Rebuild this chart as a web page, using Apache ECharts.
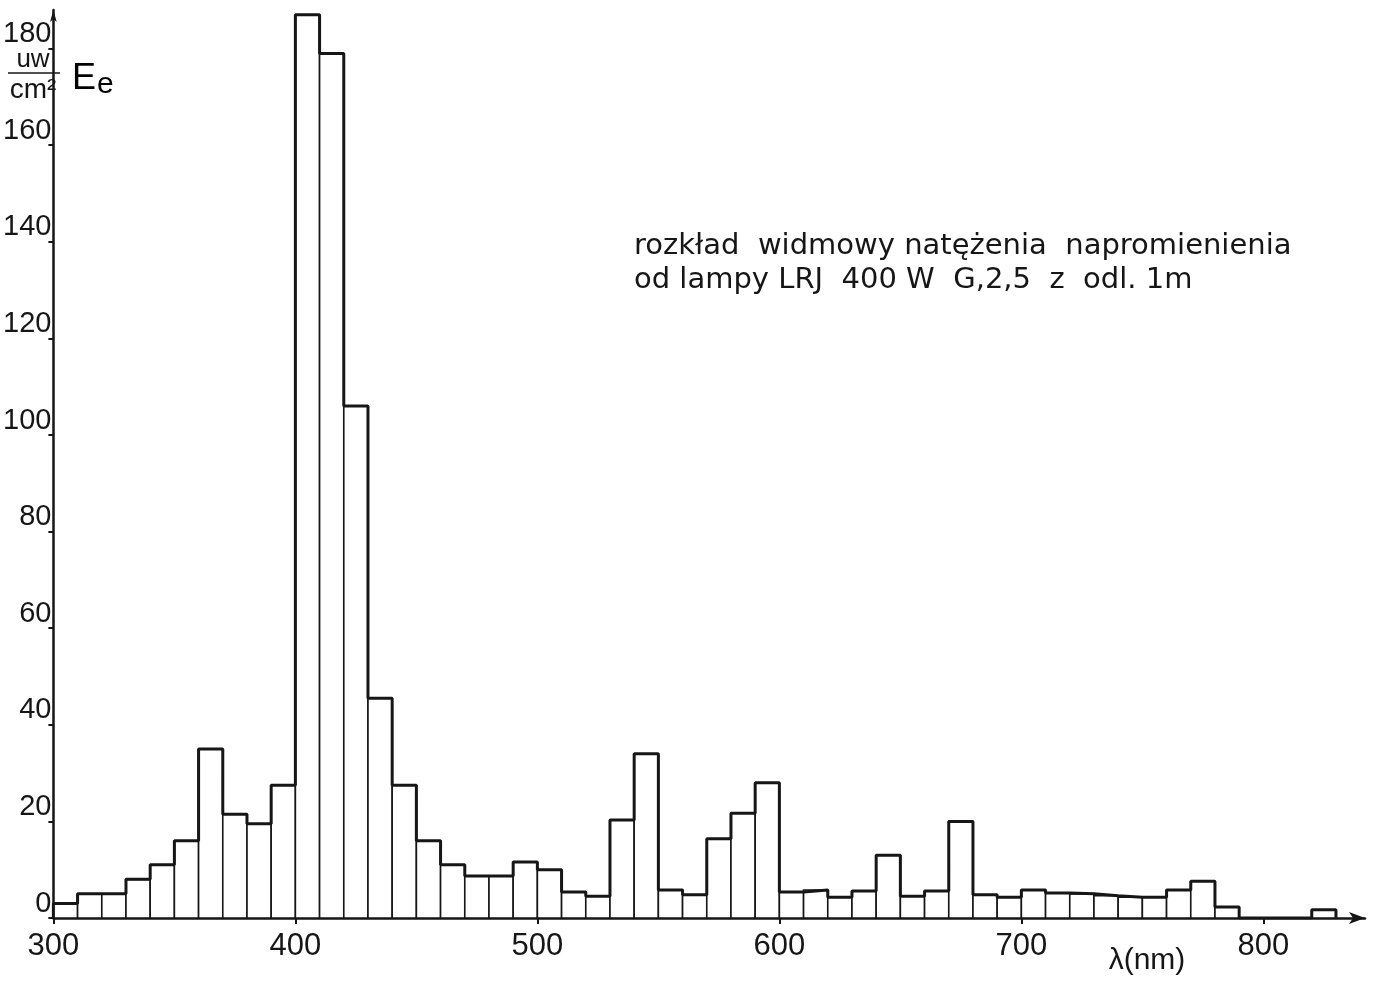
<!DOCTYPE html>
<html>
<head>
<meta charset="utf-8">
<title>rozkład widmowy natężenia napromienienia</title>
<script src="https://cdn.jsdelivr.net/npm/echarts@6/dist/echarts.min.js"></script>
<style>
  html, body { margin: 0; padding: 0; background: #fff; }
  #chart { width: 1374px; height: 983px; }
</style>
</head>
<body>
<div id="chart"></div>
<script>
// wavelength bins (nm, start of each 10 nm band)
const binStarts = [
  300, 310, 320, 330, 340, 350, 360, 370, 380, 390,
  400, 410, 420, 430, 440, 450, 460, 470, 480, 490,
  500, 510, 520, 530, 540, 550, 560, 570, 580, 590,
  600, 610, 620, 630, 640, 650, 660, 670, 680, 690,
  700, 710, 720, 730, 740, 750, 760, 770, 780, 790,
  800, 810, 820
];
// Ee in uW/cm2
const irradiance = [
  3, 5, 5, 8, 11, 16, 35, 21.5, 19.5, 27.5,
  187, 179, 106, 45.5, 27.5, 16, 11, 8.7, 8.7, 11.6,
  10, 5.4, 4.5, 20.3, 34, 5.8, 4.8, 16.4, 21.7, 28,
  5.4, 5.8, 4.3, 5.6, 13, 4.5, 5.6, 20, 4.8, 4.3,
  5.8, 5.2, 5, 4.6, 4.3, 4.3, 5.8, 7.6, 2.3, 0,
  0, 0, 1.7
];
const xTicks = [300, 400, 500, 600, 700, 800];
const yTicks = [0, 20, 40, 60, 80, 100, 120, 140, 160, 180];

const BIN_WIDTH = 10;
const INK = "#161616";

const chart = echarts.init(document.getElementById("chart"), null, { renderer: "canvas" });

const barData = binStarts.map((x, i) => [x, irradiance[i]]);

// outline of the histogram as a step line through the same values
const outline = [[binStarts[0], 0]];
binStarts.forEach((x, i) => outline.push([x, irradiance[i]]));
const lastX = binStarts[binStarts.length - 1] + BIN_WIDTH;
outline.push([lastX, irradiance[irradiance.length - 1]]);
outline.push([lastX, 0]);

const option = {
  backgroundColor: "#fff",
  animation: false,
  textStyle: { fontFamily: "Liberation Sans, Arial, sans-serif", color: INK },
  grid: { left: 53, right: 9, top: 10, bottom: 65 },
  xAxis: {
    type: "value",
    min: 300,
    max: 842,
    splitLine: { show: false },
    axisLine: {
      lineStyle: { color: INK, width: 2.5 },
      symbol: ["none", "arrow"],
      symbolSize: [9, 16]
    },
    axisTick: {
      customValues: xTicks,
      length: 6,
      lineStyle: { color: INK, width: 2 }
    },
    axisLabel: {
      customValues: xTicks,
      fontSize: 31,
      color: INK,
      margin: 13
    }
  },
  yAxis: {
    type: "value",
    min: 0,
    max: 188,
    splitLine: { show: false },
    axisLine: {
      lineStyle: { color: INK, width: 2.5 },
      symbol: ["none", "arrow"],
      symbolSize: [5, 12]
    },
    axisTick: {
      customValues: yTicks,
      length: 5,
      lineStyle: { color: INK, width: 2 }
    },
    axisLabel: {
      customValues: yTicks,
      fontSize: 29,
      color: INK,
      margin: 2,
      verticalAlign: "bottom"
    }
  },
  series: [
    {
      type: "custom",
      data: barData,
      encode: { x: 0, y: 1 },
      z: 2,
      renderItem(params, api) {
        const x0 = api.value(0);
        const v = api.value(1);
        if (!v) return null;
        const top = api.coord([x0, v]);
        const base = api.coord([x0 + BIN_WIDTH, 0]);
        return {
          type: "rect",
          shape: {
            x: top[0],
            y: top[1],
            width: base[0] - top[0],
            height: base[1] - top[1]
          },
          style: { fill: "#fff", stroke: INK, lineWidth: 1.6 }
        };
      }
    },
    {
      type: "line",
      data: outline,
      step: "end",
      symbol: "none",
      z: 3,
      lineStyle: { color: INK, width: 3 }
    }
  ],
  graphic: [
    {
      type: "text",
      left: 634,
      top: 229,
      style: {
        text: "rozkład  widmowy natężenia  napromienienia\nod lampy LRJ  400 W  G,2,5  z  odl. 1m",
        font: "29px 'DejaVu Sans', sans-serif",
        lineHeight: 34,
        fill: INK
      }
    },
    {
      type: "text",
      x: 1147,
      y: 961,
      style: {
        text: "λ(nm)",
        font: "30px 'Liberation Sans', Arial, sans-serif",
        fill: INK,
        align: "center",
        verticalAlign: "middle"
      }
    },
    {
      type: "text",
      x: 33,
      y: 60,
      style: {
        text: "uw",
        font: "26px 'Liberation Sans', Arial, sans-serif",
        fill: INK,
        align: "center",
        verticalAlign: "middle"
      }
    },
    {
      type: "line",
      shape: { x1: 8, y1: 73, x2: 60, y2: 73 },
      style: { stroke: INK, lineWidth: 1.5 }
    },
    {
      type: "text",
      x: 33,
      y: 90,
      style: {
        text: "cm²",
        font: "28px 'Liberation Sans', Arial, sans-serif",
        fill: INK,
        align: "center",
        verticalAlign: "middle"
      }
    },
    {
      type: "text",
      x: 72,
      y: 58,
      style: {
        text: "{e|E}{s|e}",
        rich: {
          e: { fontSize: 36, fontFamily: "Liberation Sans", color: INK },
          s: { fontSize: 30, fontFamily: "Liberation Sans", color: INK, padding: [12, 0, 0, 1] }
        }
      }
    }
  ]
};

chart.setOption(option);
</script>
</body>
</html>
